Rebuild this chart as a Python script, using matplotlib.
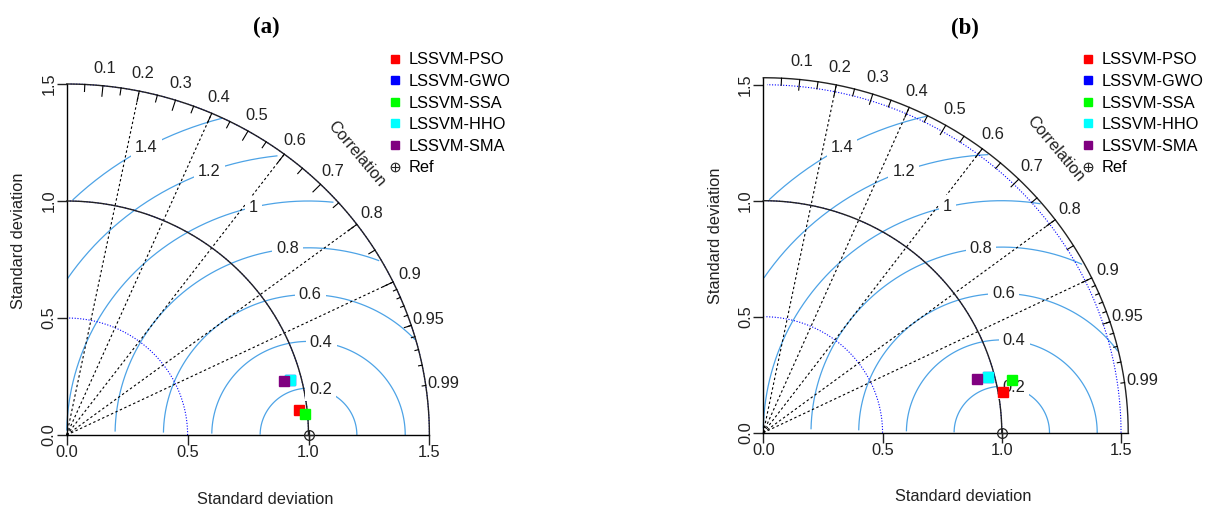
import numpy as np
import matplotlib
matplotlib.use('Agg')
import matplotlib.pyplot as plt
from matplotlib.lines import Line2D

plt.rcParams['font.family'] = ['Liberation Sans', 'DejaVu Sans']

# ---- data ----
models = ['LSSVM-PSO', 'LSSVM-GWO', 'LSSVM-SSA', 'LSSVM-HHO', 'LSSVM-SMA']
model_colors = ['#ff0000', '#0000ff', '#00ff00', '#00ffff', '#800080']

# panel (a): standard deviation and correlation of each model
sd_a = [0.968, 0.951, 0.991, 0.951, 0.928]
cor_a = [0.994, 0.969, 0.996, 0.969, 0.969]
# panel (b)
sd_b = [1.020, 0.973, 1.068, 0.973, 0.926]
cor_b = [0.985, 0.969, 0.977, 0.969, 0.968]

ref_sd = 1.0
maxsd_a = 1.5
maxsd_b = 1.53

gamma_levels = [0.2, 0.4, 0.6, 0.8, 1.0, 1.2, 1.4]
gamma_labels = ['0.2', '0.4', '0.6', '0.8', '1', '1.2', '1.4']
corr_lines = [0.2, 0.4, 0.6, 0.8, 0.9]
corr_big = [0.1, 0.2, 0.3, 0.4, 0.5, 0.6, 0.7, 0.8, 0.9]
corr_med = [0.05, 0.15, 0.25, 0.35, 0.45, 0.55, 0.65, 0.75, 0.85, 0.95]
corr_small = [0.91, 0.92, 0.93, 0.94, 0.95, 0.96, 0.97, 0.98, 0.99]
corr_labels = [0.1, 0.2, 0.3, 0.4, 0.5, 0.6, 0.7, 0.8, 0.9, 0.95, 0.99]
sd_ticks = [0.0, 0.5, 1.0, 1.5]
sd_arcs = [0.5, 1.0, 1.5]

FS = 11.8
GAMMA_COL = '#4da3e6'
W, H = 1207, 511


def taylor(ax, sd, cor, maxsd, title, title_xy, xlab_xy, ylab_xy):
    ax.set_xlim(0, maxsd)
    ax.set_ylim(0, maxsd)
    for s in ['top', 'right']:
        ax.spines[s].set_visible(False)
    for s in ['left', 'bottom']:
        ax.spines[s].set_linewidth(1.0)
        ax.spines[s].set_color('black')
    ax.set_xticks(sd_ticks)
    ax.set_yticks(sd_ticks)
    ax.set_xticklabels(['%.1f' % v for v in sd_ticks], fontsize=FS)
    ax.set_yticklabels(['%.1f' % v for v in sd_ticks], fontsize=FS,
                       rotation=90, va='center')
    ax.tick_params(length=7, width=1, pad=0.5, colors='#222222')

    # sd arcs (blue dotted)
    t = np.arange(0, np.pi / 2, 0.03)
    for r in sd_arcs:
        ax.plot(np.cos(t) * r, np.sin(t) * r, color='blue', lw=0.8,
                dashes=(1, 1.5), clip_on=False, zorder=2)
    # outer arc and reference arc
    t2 = np.linspace(0, np.pi / 2, 200)
    ax.plot(np.cos(t2) * maxsd, np.sin(t2) * maxsd, color='#222222', lw=1.0,
            clip_on=False, zorder=3)
    ax.plot(np.cos(t2) * ref_sd, np.sin(t2) * ref_sd, color='#222222', lw=1.0,
            clip_on=False, zorder=3)

    # correlation radial lines
    for c in corr_lines:
        ax.plot([0, maxsd * c], [0, maxsd * np.sqrt(1 - c * c)], color='black',
                lw=0.8, dashes=(2.2, 2.2), clip_on=False, zorder=2)

    # correlation ticks on outer arc
    for vals, frac in [(corr_big, 0.97), (corr_med, 0.98), (corr_small, 0.99)]:
        for c in vals:
            a = np.arccos(c)
            ax.plot([np.cos(a) * maxsd, np.cos(a) * frac * maxsd],
                    [np.sin(a) * maxsd, np.sin(a) * frac * maxsd],
                    color='black', lw=0.8, clip_on=False, zorder=3)
    for c in corr_labels:
        a = np.arccos(c)
        ax.text(np.cos(a) * 1.05 * maxsd, np.sin(a) * 1.05 * maxsd, '%g' % c,
                ha='center', va='center', fontsize=FS, color='#222222')
    ax.text(0.8 * maxsd, 0.8 * maxsd, 'Correlation', rotation=-50,
            ha='center', va='center', fontsize=FS, color='#222222',
            rotation_mode='anchor')

    # centred RMS difference contours
    tg = np.arange(0, np.pi, 0.03)
    labelpos = np.linspace(45, 70, len(gamma_levels))
    for g, lab, lp in zip(gamma_levels, gamma_labels, labelpos):
        x = np.cos(tg) * g + ref_sd
        y = np.sin(tg) * g
        neg = np.where(x < 0)[0]
        end = neg.min() - 1 if len(neg) else len(x) - 1
        out = np.where(x * x + y * y > maxsd * maxsd)[0]
        start = out.max() + 1 if len(out) else 0
        ax.plot(x[start:end + 1], y[start:end + 1], color=GAMMA_COL, lw=0.9,
                clip_on=False, zorder=1)
        i = int(lp) - 1
        ax.text(x[i], y[i], lab, ha='center', va='center', fontsize=FS,
                color='#222222', zorder=4,
                bbox=dict(boxstyle='square,pad=0.25', fc='white', ec='none'))

    # model points
    sd = np.asarray(sd)
    cor = np.asarray(cor)
    px = sd * cor
    py = sd * np.sqrt(1 - cor ** 2)
    for xi, yi, col in zip(px, py, model_colors):
        ax.plot(xi, yi, marker='s', ms=6.8, color=col, mec=col, ls='none',
                clip_on=False, zorder=6)
    # reference point
    ax.plot(ref_sd, 0, marker='o', ms=7, mfc='none', mec='#222222', mew=0.9,
            ls='none', clip_on=False, zorder=6)
    ax.plot(ref_sd, 0, marker='+', ms=7, mec='#222222', mew=0.9,
            ls='none', clip_on=False, zorder=6)

    ax.set_xlabel('Standard deviation', fontsize=FS, color='#222222')
    ax.xaxis.set_label_coords(*xlab_xy)
    ax.xaxis.label.set_va('center')
    ax.set_ylabel('Standard deviation', fontsize=FS, color='#222222')
    ax.yaxis.set_label_coords(*ylab_xy)
    ax.yaxis.label.set_va('center')
    ax.text(title_xy[0], title_xy[1], title, transform=ax.transAxes,
            ha='center', va='center', fontsize=16.5, fontweight='bold',
            family='Liberation Serif')


def add_legend(ax, left_px, top_px):
    handles = [Line2D([], [], marker='s', ms=5.5, color=c, ls='none')
               for c in model_colors]
    ref_h = (Line2D([], [], marker='o', ms=6.2, mfc='none', mec='#222222',
                    mew=0.8, ls='none'),
             Line2D([], [], marker='+', ms=6.2, mec='#222222', mew=0.8,
                    ls='none'))
    ax.legend(handles + [ref_h], models + ['Ref'], loc='upper left',
              bbox_to_anchor=(left_px / W, 1 - top_px / H),
              bbox_transform=ax.figure.transFigure, frameon=False,
              fontsize=FS, borderpad=0, borderaxespad=0, handlelength=0.8,
              handletextpad=0.45, labelspacing=0.4)


fig = plt.figure(figsize=(W / 100, H / 100), dpi=100)

ax_a = fig.add_axes([66.7 / W, (H - 435) / H, maxsd_a * 241.8 / W, maxsd_a * 234 / H])
taylor(ax_a, sd_a, cor_a, maxsd_a, '(a)', (0.551, 1.16), (0.547, -0.185), (-0.133, 0.553))
add_legend(ax_a, 388.5, 52.5)

ax_b = fig.add_axes([763.3 / W, (H - 432.7) / H, maxsd_b * 238.5 / W, maxsd_b * 232 / H])
taylor(ax_b, sd_b, cor_b, maxsd_b, '(b)', (0.553, 1.14), (0.547, -0.180), (-0.132, 0.555))
add_legend(ax_b, 1081.5, 52.5)

fig.savefig('out.png', dpi=100)
